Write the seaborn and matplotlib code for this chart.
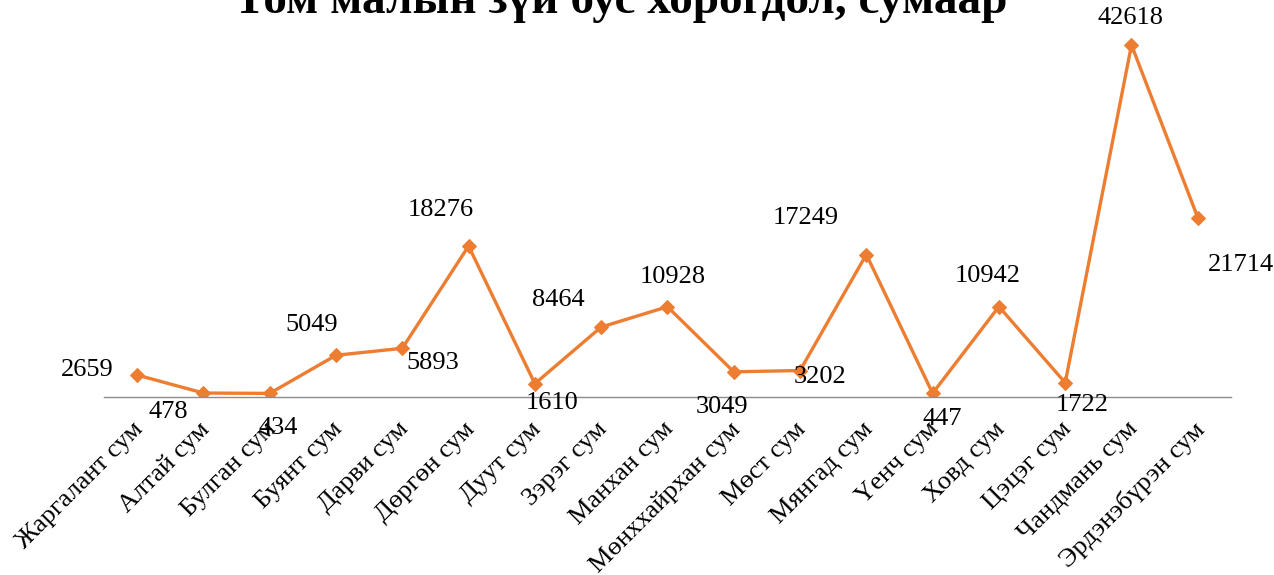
import pandas as pd
import matplotlib
matplotlib.use("Agg")
import matplotlib.pyplot as plt
import matplotlib.transforms as mtransforms
import seaborn as sns

# ==================================================
# DATA
# ==================================================

sums = ["Жаргалант сум", "Алтай сум", "Булган сум", "Буянт сум", "Дарви сум",
        "Дөргөн сум", "Дуут сум", "Зэрэг сум", "Манхан сум", "Мөнххайрхан сум",
        "Мөст сум", "Мянгад сум", "Үенч сум", "Ховд сум", "Цэцэг сум",
        "Чандмань сум", "Эрдэнэбүрэн сум"]
losses = [2659, 478, 434, 5049, 5893, 18276, 1610, 8464, 10928, 3049,
          3202, 17249, 447, 10942, 1722, 42618, 21714]

# label offsets in pixels (dx, dy) relative to each point
label_offsets = [(-50, 5), (-35, -19), (8, -35), (-24, 30), (30, -15),
                 (-28, 36), (17, -19), (-43, 27), (5, 30), (-12, -35),
                 (20, -6), (-61, 37), (10, -26), (-11, 31), (17, -22),
                 (-1, 27), (43, -47)]

df = pd.DataFrame({"sum": sums, "loss": losses})

# ==================================================
# PLOT
# ==================================================

sns.set_style("white")
plt.rcParams["font.family"] = ["Liberation Serif", "DejaVu Serif"]
plt.rcParams["text.color"] = "black"

fig = plt.figure(figsize=(12.74, 5.75), dpi=100)
ax = fig.add_axes([0.0816, 0.3096, 0.8846, 0.6904])

color = "#ED7D31"
sns.lineplot(data=df, x=df.index, y="loss", ax=ax, color=color, linewidth=2.4,
             marker="D", markersize=7, markeredgecolor=color, sort=False)

for i, (v, off) in enumerate(zip(losses, label_offsets)):
    ax.annotate(str(v), (i, v), xytext=off, textcoords="offset pixels",
                ha="center", va="center", fontsize=19, color="black")

ax.set_xlim(-0.5, len(sums) - 0.5)
ax.set_ylim(0, 48060)
ax.set_xticks(range(len(sums)))
ax.set_xticklabels(sums, rotation=45, ha="right", rotation_mode="anchor",
                   fontsize=19, color="black")
ax.tick_params(axis="x", length=0, pad=15)
shift = mtransforms.ScaledTranslation(-5 / 100, 0, fig.dpi_scale_trans)
for lbl in ax.get_xticklabels():
    lbl.set_transform(lbl.get_transform() + shift)
ax.set_yticks([])
ax.set_xlabel("")
ax.set_ylabel("")

for side in ["top", "right", "left"]:
    ax.spines[side].set_visible(False)
ax.spines["bottom"].set_color("#8c8c8c")
ax.spines["bottom"].set_linewidth(1)
ax.patch.set_alpha(0)

fig.text(0.487, 1 - 13 / 575, "Том малын зүй бус хорогдол, сумаар",
         ha="center", va="baseline", fontsize=34, fontweight="bold",
         color="black")

fig.savefig("out.png", dpi=100)
